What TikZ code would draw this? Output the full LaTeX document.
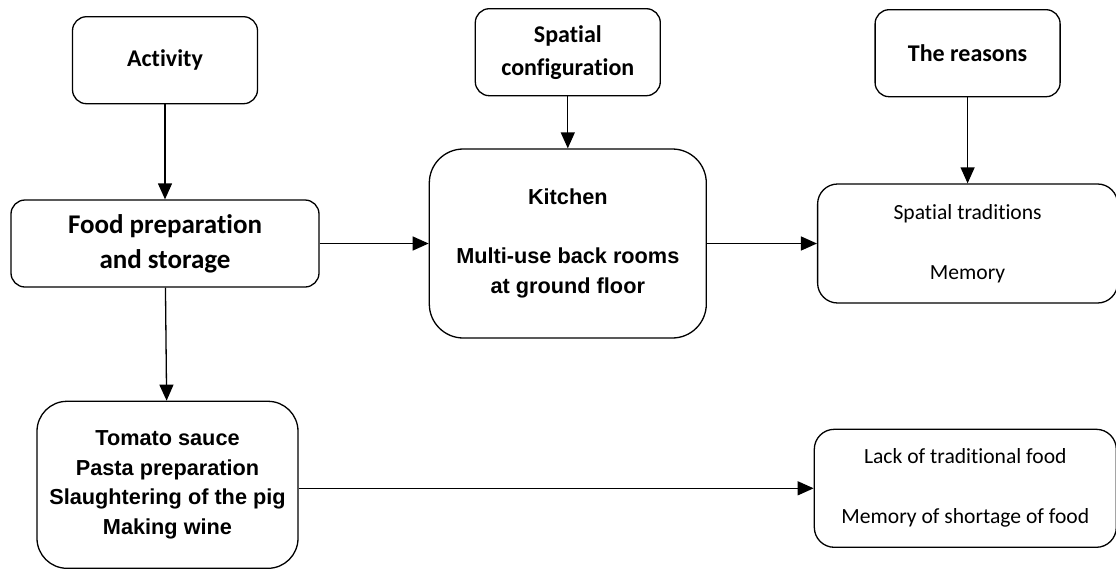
\documentclass[tikz,border=0pt]{standalone}
\usepackage{fontspec}
\newfontfamily\calibrif[Ligatures=NoCommon]{Carlito}
\newfontfamily\arialf{Liberation Sans}
\usetikzlibrary{arrows.meta,positioning}
\tikzset{
  flowarr/.style={-{Triangle[length=16pt,width=14pt]}, line width=1.3pt, draw=black},
  flownode/.style={draw, line width=1.3pt, align=center, inner sep=2pt},
  flowhead/.style={font=\calibrif\bfseries\fontsize{24}{33}\selectfont},
}

\begin{document}
\begin{tikzpicture}[
  x=1pt, y=-1pt,
  hd/.style={flownode, flowhead, rounded corners=14pt, minimum width=185pt, minimum height=87pt},
  mid/.style={flownode, rounded corners=30pt, font=\arialf\bfseries\fontsize{21.7}{29.5}\selectfont},
  why/.style={flownode, rounded corners=20pt, minimum width=300pt, minimum height=119pt, font=\calibrif\fontsize{21.6}{30}\selectfont},
]
  \useasboundingbox (0,0) rectangle (1116,568);
  \node[flownode, rounded corners=14pt, minimum width=308pt, minimum height=87pt,
        font=\calibrif\bfseries\fontsize{27}{35}\selectfont] (food) at (165,243.5) {Food preparation\\and storage};
  \node[hd, above=95pt of food] (act) {Activity};
  \node[mid, rounded corners=34pt, minimum width=277pt, minimum height=189pt, right=109pt of food] (kit)
        {Kitchen\\[29.5pt]Multi-use back rooms\\at ground floor};
  \node[hd, above=52pt of kit] (spc) {Spatial\\configuration};
  \node[why, right=110pt of kit] (trad) {Spatial traditions\\[30pt]Memory};
  \node[hd, above=86pt of trad] (rea) {The reasons};
  \node[mid, minimum width=261pt, minimum height=167pt, below=113pt of food, xshift=2.5pt] (tom)
        {Tomato sauce\\Pasta preparation\\Slaughtering of the pig\\Making wine};
  \node[why, minimum width=302pt, minimum height=118pt, right=515pt of tom, yshift=-3.5pt] (lack)
        {Lack of traditional food\\[30pt]Memory of shortage of food};

  \draw[flowarr] (act) -- (food);
  \draw[flowarr] (spc) -- (kit);
  \draw[flowarr] (rea) -- (trad);
  \draw[flowarr] (food) -- (kit);
  \draw[flowarr] (kit) -- (trad);
  \draw[flowarr] (food) -- (tom);
  \draw[flowarr] (tom.east |- lack.west) -- (lack.west);
\end{tikzpicture}
\end{document}
